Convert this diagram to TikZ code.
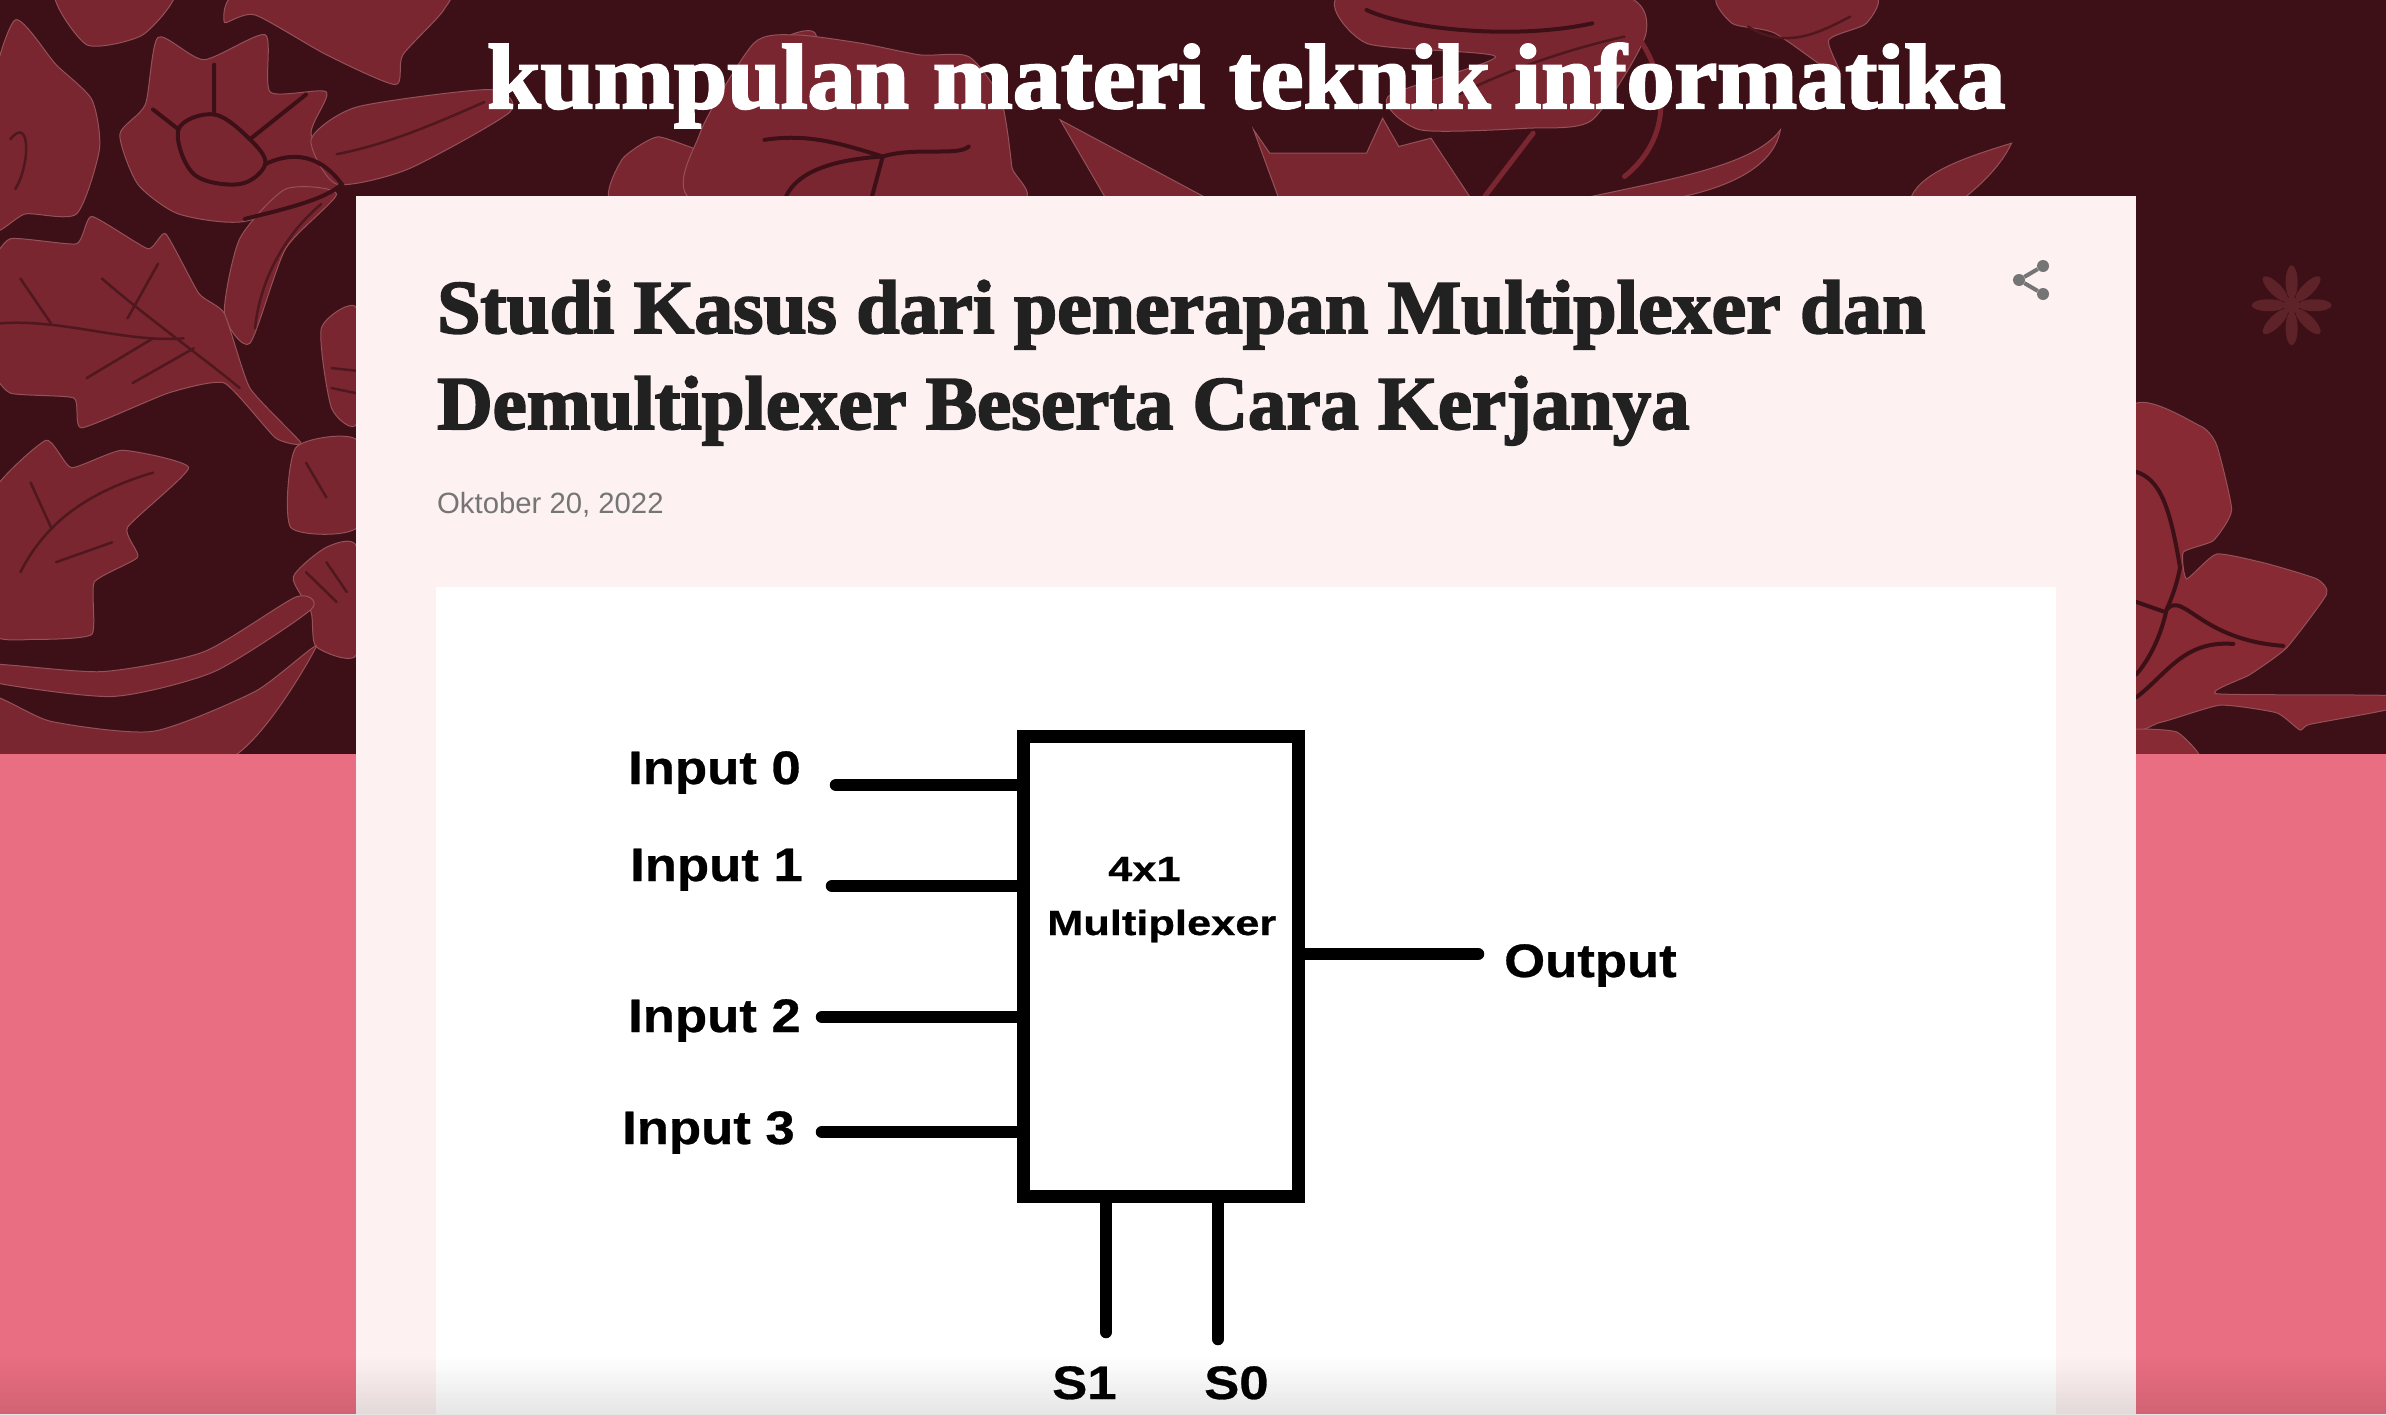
\documentclass[tikz,border=0pt]{standalone}
\usepackage{fontspec}
\setmainfont{Liberation Sans}
\newfontfamily\labelfont[FakeStretch=1.12,FakeBold=0.6]{Liberation Sans}
\newfontfamily\muxfont[FakeStretch=1.24,FakeBold=0.6]{Liberation Sans}
\newfontfamily\titlefont[FakeBold=2.5,FakeStretch=1.044]{Liberation Serif}
\newfontfamily\headfont[FakeBold=2.5,FakeStretch=1.023]{Liberation Serif}
\newfontfamily\headfontb[FakeBold=2.5,FakeStretch=1.011]{Liberation Serif}
\definecolor{batikdark}{HTML}{3D1017}
\definecolor{batikred}{HTML}{7A2630}
\definecolor{batikbright}{HTML}{882A33}
\definecolor{batikfaint}{HTML}{5E2229}
\definecolor{pagepink}{HTML}{E96E81}
\definecolor{cardpink}{HTML}{FDF1F1}
\definecolor{headink}{HTML}{212121}
\definecolor{greyink}{HTML}{757575}
\tikzset{
  petal/.style={fill=batikred,draw=batikred!80!white,line width=1pt},
  brightpetal/.style={fill=batikbright,draw=batikred!80!white,line width=1pt},
  vein/.style={draw=batikdark,line width=4pt,line cap=round},
  thinvein/.style={draw=batikdark!70!batikred,line width=2.5pt,line cap=round},
  stem/.style={draw=batikred,line width=5pt,line cap=round},
  lbl/.style={anchor=base west,inner sep=0pt,font=\labelfont\bfseries\fontsize{47}{47}\selectfont},
  muxlbl/.style={anchor=base west,inner sep=0pt,font=\muxfont\bfseries\fontsize{35}{35}\selectfont},
  wire/.style={draw=black,line width=12.5pt,line cap=round},
  dotnode/.style={circle,fill=greyink,inner sep=0pt,minimum size=12pt}
}
\begin{document}
\begin{tikzpicture}[x=1pt,y=-1pt]
\useasboundingbox (0,0) rectangle (2386,1414);
\fill[batikdark] (0,0) rectangle (2386,760);
% left side
\begin{scope}[x=0.51pt,y=-0.4975pt]
\fill[petal] plot[smooth cycle,tension=.4] coordinates {(310,75) (400,120) (520,70) (530,185) (640,185) (610,270) (670,370) (480,445) (350,430) (270,370) (235,270) (285,210)};
\fill[petal] plot[smooth cycle,tension=.4] coordinates {(610,280) (700,215) (960,180) (1000,225) (800,340) (660,370)};
\fill[petal] plot[smooth cycle,tension=.4] coordinates {(660,390) (560,500) (490,690) (440,630) (470,480) (560,380)};
\fill[petal] plot[smooth cycle,tension=.3] coordinates {(-20,545) (20,480) (150,490) (180,435) (290,500) (325,470) (390,590) (440,630) (490,780) (590,890) (540,880) (440,770) (330,790) (160,860) (145,800) (20,790) (-20,730)};
\fill[petal] plot[smooth cycle,tension=.4] coordinates {(-20,200) (30,40) (110,130) (180,200) (195,300) (150,430) (50,430) (-20,460)};
\fill[petal] plot[smooth cycle,tension=.4] coordinates {(110,-20) (340,-20) (280,70) (170,90)};
\fill[petal] plot[smooth cycle,tension=.4] coordinates {(440,45) (480,-20) (860,-20) (870,20) (790,110) (775,170) (640,110) (500,30)};
\fill[petal] plot[smooth cycle,tension=.3] coordinates {(-20,1000) (90,885) (140,940) (240,905) (370,940) (250,1060) (270,1120) (185,1170) (180,1275) (70,1285) (-20,1270)};
\fill[petal] plot[smooth cycle,tension=.4] coordinates {(630,660) (700,620) (700,850) (650,820)};
\fill[petal] plot[smooth cycle,tension=.4] coordinates {(580,900) (700,885) (700,1060) (570,1060)};
\fill[petal] plot[smooth cycle,tension=.4] coordinates {(575,1160) (640,1100) (700,1100) (700,1315) (620,1300) (610,1230)};
\fill[petal] plot[smooth cycle,tension=.4] coordinates {(-20,1335) (200,1350) (400,1310) (580,1200) (610,1225) (420,1350) (220,1400) (-20,1370)};
\fill[petal] plot[smooth cycle,tension=.4] coordinates {(-20,1400) (100,1450) (300,1470) (500,1390) (620,1300) (440,1530) (-20,1530)};
\fill[petal] plot[smooth cycle,tension=.3] coordinates {(1205,410) (1220,320) (1290,275) (1400,310) (1450,260) (1500,100) (1600,70) (1600,410)};
\draw[vein] plot[smooth cycle,tension=.6] coordinates {(350,260) (420,230) (490,280) (520,330) (470,370) (380,350)};
\draw[vein] (480,440) .. controls (560,420) and (640,400) .. (670,370) .. controls (620,300) and (560,310) .. (520,330);
\draw[vein] (350,260) -- (300,220) (420,230) -- (420,130) (490,280) -- (600,190);
\draw[thinvein] (0,650) .. controls (120,640) and (250,690) .. (360,680) (200,560) .. controls (290,640) and (400,720) .. (470,780);
\draw[thinvein] (100,650) -- (40,560) (250,640) -- (310,530) (300,680) -- (170,760) (380,700) -- (260,770);
\draw[thinvein] (40,1150) .. controls (90,1050) and (170,990) .. (300,950) (100,1060) -- (60,970) (110,1130) -- (220,1090);
\draw[thinvein] (20,280) .. controls (60,230) and (60,330) .. (30,380);
\draw[thinvein] (650,740) -- (697,745) (650,780) -- (697,790) (600,930) -- (640,1000) (600,1150) -- (660,1210) (640,1130) -- (680,1190);
\draw[thinvein] (660,310) .. controls (760,290) and (850,250) .. (950,205) (500,660) .. controls (510,560) and (560,470) .. (630,410);
\end{scope}
% top band
\begin{scope}[shift={(700,0)},x=1.075pt,y=-0.333pt]
\fill[petal] plot[smooth cycle,tension=.4] coordinates {(50,130) (90,105) (150,130) (205,165) (250,170) (280,300) (290,500) (290,610) (0,610) (0,400)};
\fill[petal] plot[smooth cycle,tension=.4] coordinates {(600,-20) (850,-20) (880,100) (830,360) (770,385) (670,390) (640,290) (740,170) (620,130)};
\fill[petal] plot[smooth cycle,tension=.4] coordinates {(950,-20) (1090,-20) (1085,70) (1050,120) (1060,230) (1000,100) (960,70)};
\fill[petal] (335,360) -- (480,610) -- (380,610) -- cycle;
\fill[petal] (515,390) -- (530,460) -- (620,460) -- (635,355) -- (650,440) -- (680,415) -- (720,610) -- (540,610) -- cycle;
\fill[petal] (800,610) .. controls (900,540) and (980,500) .. (1005,390) .. controls (1000,480) and (970,570) .. (880,610) -- cycle;
\fill[petal] (1125,610) .. controls (1130,520) and (1180,470) .. (1220,430) .. controls (1210,500) and (1190,560) .. (1170,610) -- cycle;
\draw[stem] (860,60) .. controls (900,200) and (910,400) .. (860,530);
\draw[stem] (730,590) -- (775,400);
\draw[vein] (60,420) .. controls (100,400) and (130,430) .. (170,470) .. controls (200,440) and (240,470) .. (250,440);
\draw[vein] (80,590) .. controls (90,520) and (120,480) .. (170,470) (160,590) -- (170,470);
\draw[vein] (620,30) .. controls (660,90) and (760,120) .. (830,70);
\draw[thinvein] (680,330) .. controls (720,250) and (790,160) .. (860,110) (975,80) .. controls (1010,150) and (1040,100) .. (1070,50);
\end{scope}
% right side
\begin{scope}[shift={(1900,200)},x=0.3333pt,y=-0.3827pt]
\fill[brightpetal] plot[smooth cycle,tension=.3] coordinates {(690,550) (900,590) (950,640) (995,810) (940,890) (850,920) (860,990) (950,925) (1100,950) (1250,990) (1280,1030) (1160,1170) (1050,1240) (950,1290) (1470,1295) (1470,1330) (1230,1370) (1200,1385) (1130,1340) (960,1320) (780,1365) (690,1350)};
\fill[brightpetal] plot[smooth cycle,tension=.3] coordinates {(690,1385) (830,1390) (900,1460) (690,1460)};
\draw[vein] (708,710) .. controls (780,730) and (810,800) .. (840,960) .. controls (830,1010) and (810,1050) .. (800,1070) .. controls (780,1150) and (740,1210) .. (708,1240);
\draw[vein] (800,1070) .. controls (850,1020) and (900,1150) .. (1150,1165);
\draw[vein] (708,1050) -- (790,1075) (708,1300) .. controls (800,1240) and (850,1150) .. (1000,1160);
\foreach \a in {0,45,...,315}
  \fill[batikfaint,shift={(1175,275)},rotate=\a] (23pt,0pt) ellipse (17pt and 6pt);
\fill[batikfaint] (1175,275) circle (8pt);
\end{scope}
\fill[pagepink] (0,754) rectangle (2386,1414);
\fill[cardpink] (356,196) rectangle (2136,1414);
\fill[white] (436,587) rectangle (2056,1414);
\node[anchor=base west,inner sep=0pt,white,font=\titlefont\bfseries\fontsize{92}{92}\selectfont] (blogtitle) at (487,108) {kumpulan materi teknik informatika};
\node[anchor=base west,inner sep=0pt,headink,font=\headfont\bfseries\fontsize{76}{76}\selectfont] (postline1) at (437,333) {Studi Kasus dari penerapan Multiplexer dan};
\node[anchor=base west,inner sep=0pt,headink,font=\headfontb\bfseries\fontsize{76}{76}\selectfont] (postline2) at (437,429) {Demultiplexer Beserta Cara Kerjanya};
\node[anchor=base west,inner sep=0pt,greyink,font=\fontsize{29.3}{30}\selectfont] (postdate) at (437,513) {Oktober 20, 2022};
\node[dotnode] (sharetop) at (2043,266) {};
\node[dotnode] (shareleft) at (2019,280) {};
\node[dotnode] (sharebot) at (2043,294) {};
\draw[greyink,line width=4pt] (sharetop) -- (shareleft) -- (sharebot);
\node[draw,line width=13pt,minimum width=275pt,minimum height=460pt,inner sep=0pt] (mux) at (1161,966.5) {};
\node[muxlbl] (muxtype) at (1108,881) {4x1};
\node[muxlbl] (muxname) at (1047,935) {Multiplexer};
\node[lbl] (input0) at (628,784) {Input 0};
\node[lbl] (input1) at (630,881) {Input 1};
\node[lbl] (input2) at (628,1032) {Input 2};
\node[lbl] (input3) at (622,1144) {Input 3};
\node[lbl] (output) at (1504,977) {Output};
\node[lbl] (sel1) at (1052,1399) {S1};
\node[lbl] (sel0) at (1204,1399) {S0};
\coordinate (in0) at (836,785);
\coordinate (in1) at (832,886);
\coordinate (in2) at (822,1017);
\coordinate (in3) at (822,1132);
\coordinate (out) at (1478,954);
\coordinate (s1) at (1106,1332);
\coordinate (s0) at (1218,1339);
\draw[wire] (in0) -- (in0 -| mux.west);
\draw[wire] (in1) -- (in1 -| mux.west);
\draw[wire] (in2) -- (in2 -| mux.west);
\draw[wire] (in3) -- (in3 -| mux.west);
\draw[wire] (out) -- (out -| mux.east);
\draw[wire] (s1) -- (s1 |- mux.south);
\draw[wire] (s0) -- (s0 |- mux.south);
% fade at the bottom edge
\foreach \i in {1,...,20}
  \fill[black,opacity=\i*0.005] (0,1354+\i*3) rectangle (2386,1357+\i*3);
\end{tikzpicture}
\end{document}
